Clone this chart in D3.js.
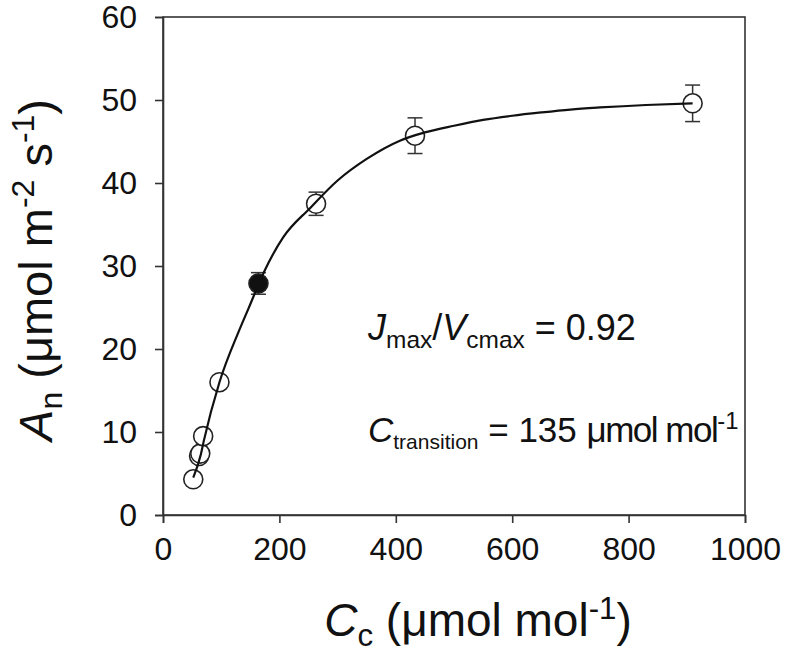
<!DOCTYPE html>
<html><head><meta charset="utf-8">
<script src="https://cdn.jsdelivr.net/npm/d3@7"></script>
<style>body{margin:0;background:#fff}svg{display:block}text{font-family:"Liberation Sans",Arial,sans-serif;fill:#111}</style>
</head><body>
<script>
const xTicks = [0, 200, 400, 600, 800, 1000];
const yTicks = [0, 10, 20, 30, 40, 50, 60];
const ccValues = [52, 62, 64, 69, 97, 164, 263, 433, 910];
const anValues = [4.3, 7.1, 7.4, 9.5, 16.0, 27.9, 37.5, 45.7, 49.6];
const anErr = [0.3, 0.3, 0.3, 0.3, 0.4, 1.3, 1.4, 2.15, 2.2];
const filledFlags = [false, false, false, false, false, true, false, false, false];
const fitCc = [52, 65, 70, 97, 130, 147, 175, 207, 253, 300, 350, 407, 450, 500, 550, 600, 650, 700, 751, 830, 910];
const fitAn = [4.5, 7.3, 8.9, 16.0, 22.1, 24.9, 29.5, 33.5, 37.0, 40.3, 42.9, 45.1, 46.1, 46.9, 47.6, 48.1, 48.5, 48.85, 49.1, 49.4, 49.6];

const W = 787, H = 659;
const m = {left: 163, top: 17, right: 787 - 745, bottom: 659 - 515};
const svg = d3.select("body").append("svg").attr("width", W).attr("height", H);
const x = d3.scaleLinear().domain([0, 1000]).range([m.left, W - m.right]);
const y = d3.scaleLinear().domain([0, 60]).range([H - m.bottom, m.top]);
const stroke = "#333";

// frame
svg.append("rect").attr("x", x(0)).attr("y", y(60)).attr("width", x(1000) - x(0)).attr("height", y(0) - y(60))
  .attr("fill", "none").attr("stroke", stroke).attr("stroke-width", 1.6);

const xAxis = svg.append("g").attr("transform", `translate(0,${y(0)})`)
  .call(d3.axisBottom(x).tickValues(xTicks).tickSize(8).tickPadding(14).tickFormat(d3.format("d")));
const yAxis = svg.append("g").attr("transform", `translate(${x(0)},0)`)
  .call(d3.axisLeft(y).tickValues(yTicks).tickSize(8).tickPadding(18).tickFormat(d3.format("d")));
[xAxis, yAxis].forEach(g => {
  g.select(".domain").attr("stroke", stroke).attr("stroke-width", 1.6);
  g.selectAll(".tick line").attr("stroke", stroke).attr("stroke-width", 1.6);
  g.selectAll(".tick text").attr("font-size", 32).attr("font-family", "Liberation Sans, Arial, sans-serif").attr("fill", "#111");
});

const pts = ccValues.map((c, i) => ({c, a: anValues[i], e: anErr[i], f: filledFlags[i]}));
const r = 9.5, cap = 7.5;
const eb = svg.append("g").attr("stroke", stroke).attr("stroke-width", 1.5);
pts.forEach(p => {
  eb.append("line").attr("x1", x(p.c)).attr("x2", x(p.c)).attr("y1", y(p.a + p.e)).attr("y2", y(p.a - p.e));
  eb.append("line").attr("x1", x(p.c) - cap).attr("x2", x(p.c) + cap).attr("y1", y(p.a + p.e)).attr("y2", y(p.a + p.e));
  eb.append("line").attr("x1", x(p.c) - cap).attr("x2", x(p.c) + cap).attr("y1", y(p.a - p.e)).attr("y2", y(p.a - p.e));
});
svg.append("g").selectAll("circle").data(pts).join("circle")
  .attr("cx", d => x(d.c)).attr("cy", d => y(d.a)).attr("r", r)
  .attr("fill", d => d.f ? "#111" : "#fff").attr("stroke", "#222").attr("stroke-width", 1.6);

const line = d3.line().x((d, i) => x(fitCc[i])).y(d => y(d)).curve(d3.curveMonotoneX);
svg.append("path").datum(fitAn).attr("d", line).attr("fill", "none").attr("stroke", "#111").attr("stroke-width", 2.2);

// annotations
function richText(sel, parts, size) {
  parts.forEach(p => {
    const t = sel.append("tspan").text(p.t);
    if (p.i) t.attr("font-style", "italic");
    if (p.ls) t.attr("letter-spacing", p.ls);
    if (p.sub) t.attr("font-size", size * (p.s || 0.68)).attr("baseline-shift", "-32%");
    if (p.sup) t.attr("font-size", size * 0.68).attr("baseline-shift", "55%");
  });
}
const a1 = svg.append("text").attr("x", 368).attr("y", 340).attr("font-size", 36);
richText(a1, [{t: "J", i: true}, {t: "max", sub: true}, {t: "/"}, {t: "V", i: true}, {t: "cmax", sub: true}, {t: " = 0.92"}], 36);
const a2 = svg.append("text").attr("x", 368).attr("y", 442).attr("font-size", 35);
richText(a2, [{t: "C", i: true}, {t: "transition", sub: true, s: 0.6}, {t: " = 135 "}, {t: "μmol mol", ls: -1.5}, {t: "-1", sup: true}], 35);

const xl = svg.append("text").attr("x", 478).attr("y", 636).attr("text-anchor", "middle").attr("font-size", 46);
richText(xl, [{t: "C", i: true}, {t: "c", sub: true}, {t: " (μmol mol"}, {t: "-1", sup: true}, {t: ")"}], 46);
const yl = svg.append("text").attr("transform", `translate(52,${(y(0) + y(60)) / 2 + 4}) rotate(-90)`).attr("text-anchor", "middle").attr("font-size", 47);
richText(yl, [{t: "A", i: true}, {t: "n", sub: true}, {t: " (μmol m"}, {t: "-2", sup: true}, {t: " s"}, {t: "-1", sup: true}, {t: ")"}], 47);
</script>
</body></html>
